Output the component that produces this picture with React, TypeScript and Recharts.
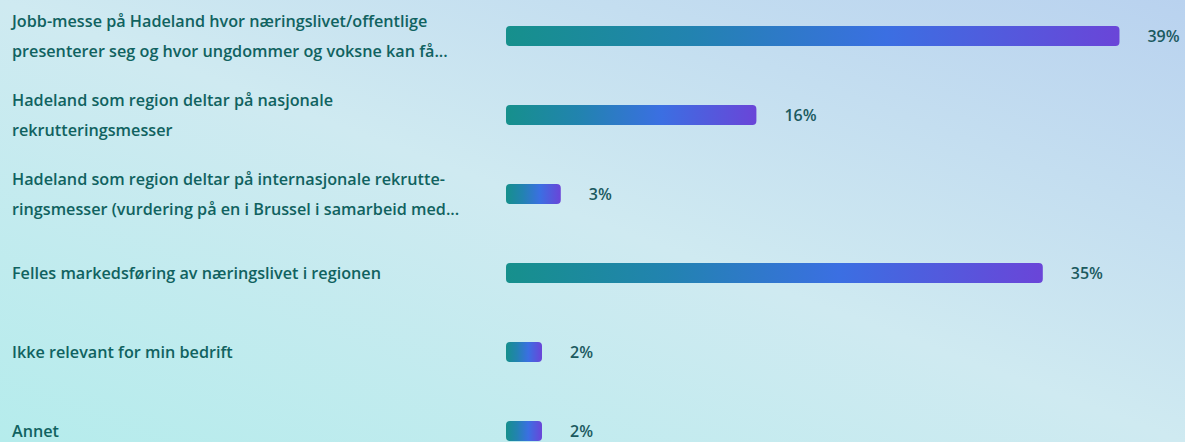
import { BarChart, Bar, XAxis, YAxis, LabelList } from "recharts";

// svaralternativer, delt i linjer slik de vises
const categoryLines: string[][] = [
  ["Jobb-messe på Hadeland hvor næringslivet/offentlige", "presenterer seg og hvor ungdommer og voksne kan få..."],
  ["Hadeland som region deltar på nasjonale", "rekrutteringsmesser"],
  ["Hadeland som region deltar på internasjonale rekrutte-", "ringsmesser (vurdering på en i Brussel i samarbeid med..."],
  ["Felles markedsføring av næringslivet i regionen"],
  ["Ikke relevant for min bedrift"],
  ["Annet"],
];

// andel (%) avlest fra søylene
const shares = [39.2, 16.0, 3.5, 34.3, 2.3, 2.3];
const shareLabels = ["39%", "16%", "3%", "35%", "2%", "2%"];

const TEXT = "#106260";
const FONT = "'Open Sans', 'Noto Sans', sans-serif";

const data = categoryLines.map((lines, i) => ({
  key: String(i),
  lines,
  share: shares[i],
  label: shareLabels[i],
}));

function CategoryTick(props: any) {
  const { y, payload } = props;
  const lines: string[] = data[Number(payload?.value)]?.lines ?? [];
  const lh = 30;
  const start = -((lines.length - 1) * lh) / 2;
  return (
    <text
      x={12}
      y={y}
      textAnchor="start"
      fill={TEXT}
      fontFamily={FONT}
      fontSize={16.2}
      fontWeight={600}
      dominantBaseline="central"
    >
      {lines.map((l, i) => (
        <tspan key={i} x={12} y={y + start + i * lh}>
          {l}
        </tspan>
      ))}
    </text>
  );
}

export default function App() {
  return (
    <div
      style={{
        width: 1185,
        height: 442,
        overflow: "hidden",
        position: "relative",
        background:
          "linear-gradient(to top right, #b5ecec 0%, #cfeaf1 50%, #b9d2ef 100%)",
      }}
    >
      <style>{"body{margin:0}"}</style>
      <div style={{ position: "absolute", left: 0, top: -4 }}>
        <BarChart
          width={1185}
          height={474}
          data={data}
          layout="vertical"
          margin={{ top: 0, right: 53, bottom: 0, left: 0 }}
        >
          <defs>
            <linearGradient id="barGrad" x1="0" y1="0" x2="1" y2="0">
              <stop offset="0%" stopColor="#16908c" />
              <stop offset="30%" stopColor="#2283b0" />
              <stop offset="62%" stopColor="#3b6fe2" />
              <stop offset="100%" stopColor="#6a45d8" />
            </linearGradient>
          </defs>
          <XAxis type="number" domain={[0, 40]} hide />
          <YAxis
            type="category"
            dataKey="key"
            width={506}
            axisLine={false}
            tickLine={false}
            tick={<CategoryTick />}
            interval={0}
          />
          <Bar
            dataKey="share"
            fill="url(#barGrad)"
            barSize={20}
            radius={4}
            isAnimationActive={false}
          >
            <LabelList
              dataKey="label"
              position="right"
              offset={28}
              fill="#1b5a5f"
              fontFamily={FONT}
              fontSize={16}
              fontWeight={600}
            />
          </Bar>
        </BarChart>
      </div>
    </div>
  );
}
